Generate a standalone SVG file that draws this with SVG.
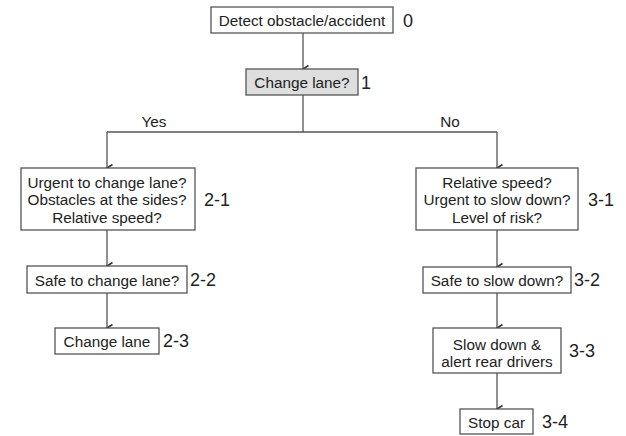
<svg xmlns="http://www.w3.org/2000/svg" width="626" height="436" viewBox="0 0 626 436">
<style>
.box{fill:#fff;stroke:#555;stroke-width:1.3}
.gray{fill:#dedede}
.t{font-family:"Liberation Sans",Arial,sans-serif;font-size:15.3px;fill:#222;text-anchor:middle;dominant-baseline:central}
.n{font-family:"Liberation Sans",Arial,sans-serif;font-size:18px;fill:#222;dominant-baseline:central}
.c{fill:none;stroke:#555;stroke-width:1.3}
</style>
<defs>
<marker id="ah" viewBox="0 0 10 10" refX="5" refY="9" markerWidth="10" markerHeight="10" markerUnits="userSpaceOnUse" orient="auto-start-reverse">
<path d="M1.5,3.5 L5,9 L8.5,3.5" fill="none" stroke="#333" stroke-width="1.6"/>
</marker>
</defs>
<rect width="626" height="436" fill="#fff"/>
<g id="connectors">
<path class="c" d="M303,33 V69" marker-end="url(#ah)"/>
<path class="c" d="M303,95 V132 M107,132 H497"/>
<path class="c" d="M107,132 V168" marker-end="url(#ah)"/>
<path class="c" d="M497,132 V168" marker-end="url(#ah)"/>
<path class="c" d="M107,230 V266" marker-end="url(#ah)"/>
<path class="c" d="M107,293 V328" marker-end="url(#ah)"/>
<path class="c" d="M497,230 V267" marker-end="url(#ah)"/>
<path class="c" d="M497,293 V328" marker-end="url(#ah)"/>
<path class="c" d="M497,373 V409" marker-end="url(#ah)"/>
<text class="t" x="154" y="121">Yes</text>
<text class="t" x="450" y="121">No</text>
</g>
<g id="n0">
<rect class="box" x="211" y="7" width="182" height="26"/>
<text class="t" x="302" y="20.5">Detect obstacle/accident</text>
<text class="n" x="403" y="21">0</text>
</g>
<g id="n1">
<rect class="box gray" x="246" y="69" width="112" height="26"/>
<text class="t" x="302" y="82.5">Change lane?</text>
<text class="n" x="361" y="83">1</text>
</g>
<g id="n2-1">
<rect class="box" x="21" y="168" width="174" height="62"/>
<text class="t" x="107" y="182">Urgent to change lane?</text>
<text class="t" x="107" y="199.5">Obstacles at the sides?</text>
<text class="t" x="107" y="217">Relative speed?</text>
<text class="n" x="204" y="200">2-1</text>
</g>
<g id="n2-2">
<rect class="box" x="27" y="266" width="160" height="27"/>
<text class="t" x="107" y="280">Safe to change lane?</text>
<text class="n" x="190" y="280">2-2</text>
</g>
<g id="n2-3">
<rect class="box" x="55" y="328" width="104" height="26"/>
<text class="t" x="107" y="341.5">Change lane</text>
<text class="n" x="163" y="341">2-3</text>
</g>
<g id="n3-1">
<rect class="box" x="416" y="168" width="162" height="62"/>
<text class="t" x="497" y="182">Relative speed?</text>
<text class="t" x="497" y="199.5">Urgent to slow down?</text>
<text class="t" x="497" y="217">Level of risk?</text>
<text class="n" x="588" y="200">3-1</text>
</g>
<g id="n3-2">
<rect class="box" x="423" y="267" width="148" height="26"/>
<text class="t" x="497" y="280.5">Safe to slow down?</text>
<text class="n" x="574" y="280">3-2</text>
</g>
<g id="n3-3">
<rect class="box" x="433" y="328" width="128" height="45"/>
<text class="t" x="497" y="344.5">Slow down &amp;</text>
<text class="t" x="497" y="361">alert rear drivers</text>
<text class="n" x="569" y="351">3-3</text>
</g>
<g id="n3-4">
<rect class="box" x="460" y="409" width="73" height="25"/>
<text class="t" x="496.5" y="422">Stop car</text>
<text class="n" x="542" y="422">3-4</text>
</g>
</svg>
